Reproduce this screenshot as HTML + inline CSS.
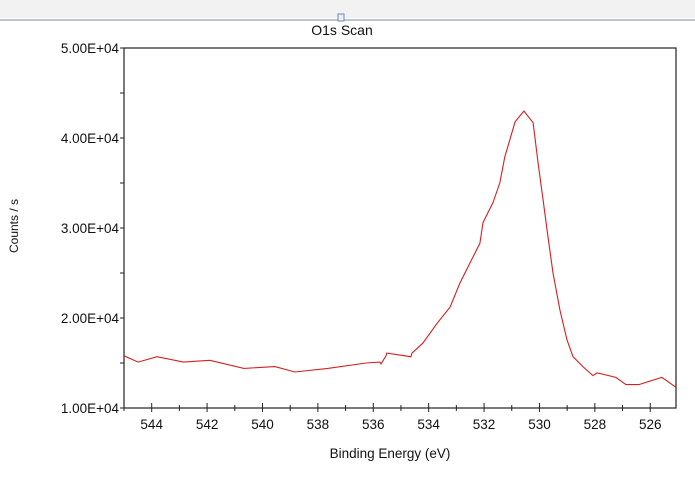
<!DOCTYPE html>
<html><head><meta charset="utf-8"><style>
body{margin:0;width:695px;height:486px;background:#fff;overflow:hidden;font-family:"Liberation Sans",sans-serif}
svg text{font-family:"Liberation Sans",sans-serif;fill:#111}
</style></head><body>
<svg id="c" width="695" height="486">
<rect x="0" y="0" width="695" height="18" fill="#f2f2f2"/>
<line x1="0" y1="20" x2="695" y2="20" stroke="#7a8a99" stroke-width="1"/>
<rect x="338" y="14" width="6" height="7" fill="#eef" stroke="#6a8ab0"/>
<text x="342" y="35" font-size="14" text-anchor="middle">O1s Scan</text>
<text x="0" y="0" font-size="12" text-anchor="middle" transform="translate(18,226) rotate(-90)">Counts / s</text>
<text x="390" y="458" font-size="13.5" text-anchor="middle">Binding Energy (eV)</text>
<rect x="124" y="48" width="552" height="360" fill="none" stroke="#222" stroke-width="1.2"/>
<g id="ax"></g>
<polyline id="ln" fill="none" stroke="#d42020" stroke-width="1.1"/>
</svg>
<script>
const energies=[545.0,544.49,543.81,542.85,541.9,540.67,539.55,538.83,537.64,536.26,535.76,535.72,535.54,535.51,534.64,534.6,534.21,533.7,533.23,532.87,532.51,532.15,532.04,531.68,531.43,531.25,530.88,530.56,530.23,530.05,529.87,529.69,529.51,529.26,529.01,528.79,528.43,528.07,527.92,527.24,526.88,526.41,525.58,525.07];
const counts=[15800,15100,15700,15100,15300,14400,14600,14000,14400,15000,15100,14900,15800,16100,15700,16100,17200,19400,21200,23900,26100,28300,30600,32800,35000,37900,41800,43000,41700,37200,33100,29000,25000,20900,17600,15700,14600,13600,13900,13400,12600,12600,13400,12300];
const xTicks=[544,542,540,538,536,534,532,530,528,526];
const yTicks=[50000,40000,30000,20000,10000];
const yLabels=["5.00E+04","4.00E+04","3.00E+04","2.00E+04","1.00E+04"];
const X0=124,X1=676,Y0=48,Y1=408,EMAX=545,EMIN=525.07,CMIN=10000,CMAX=50000;
const sx=e=>X0+(EMAX-e)/(EMAX-EMIN)*(X1-X0);
const sy=c=>Y1-(c-CMIN)/(CMAX-CMIN)*(Y1-Y0);
const NS="http://www.w3.org/2000/svg";
const ax=document.getElementById('ax');
function mk(t,a){const el=document.createElementNS(NS,t);for(const k in a)el.setAttribute(k,a[k]);ax.appendChild(el);return el;}
for(let e=545;e>=526;e--){
  const x=sx(e),maj=e%2===0;
  const t=mk('line',{x1:x,x2:x,y1:Y1-(maj?5:3),y2:Y1+(maj?4:3),stroke:'#222'});
  
  
}
xTicks.forEach(v=>{
  const t=mk('text',{x:sx(v),y:Y1+21,'font-size':13.5,'text-anchor':'middle'});t.textContent=v;
  
  
});
for(let c=10000;c<=50000;c+=5000){
  const y=sy(c);
  const t=mk('line',{x1:X0-4,x2:X0,y1:y,y2:y,stroke:'#222'});
  
  
}
yTicks.forEach((v,i)=>{
  const t=mk('text',{x:X0-5,y:sy(v)+5,'font-size':13.5,'text-anchor':'end'});t.textContent=yLabels[i];
  
  
});
document.getElementById('ln').setAttribute('points',energies.map((e,i)=>sx(e).toFixed(1)+','+sy(counts[i]).toFixed(1)).join(' '));
</script>
</body></html>
